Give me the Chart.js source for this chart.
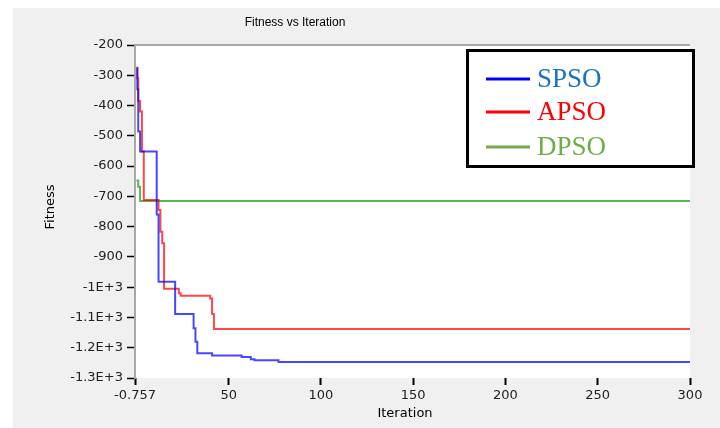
<!DOCTYPE html>
<html>
<head>
<meta charset="utf-8">
<script src="https://cdn.jsdelivr.net/npm/chart.js@4.4.0/dist/chart.umd.min.js"></script>
<style>
  html, body { margin: 0; padding: 0; background: #fff; }
  #wrap { width: 720px; height: 428px; position: relative; }
</style>
</head>
<body>
<div id="wrap"><canvas id="fitness-chart" width="720" height="428"></canvas></div>
<script>
// step points: [iteration, fitness] where the best value changes
const spso = [[0, -277], [0.5, -346], [1, -486], [2, -552], [11, -760], [12, -982],
  [21, -1089], [31, -1136], [32, -1180], [33, -1218], [41, -1226], [57, -1231],
  [62, -1238], [64, -1241], [77, -1247], [300, -1247]];
const apso = [[0, -275], [0.5, -310], [1, -385], [2, -420], [3, -552], [4, -712], [12, -745],
  [13, -817], [14, -855], [15, -1005], [23, -1020], [24, -1028], [40, -1037],
  [41, -1089], [42, -1138], [300, -1138]];
const dpso = [[0, -648], [1, -668], [2, -715], [300, -715]];

const seriesNames = ["SPSO", "APSO", "DPSO"];
const xTicks = [-0.757, 50, 100, 150, 200, 250, 300];
const yTicks = [-200, -300, -400, -500, -600, -700, -800, -900, -1000, -1100, -1200, -1300];
const yTickLabels = ["-200", "-300", "-400", "-500", "-600", "-700", "-800", "-900",
  "-1E+3", "-1.1E+3", "-1.2E+3", "-1.3E+3"];

const chartTitle = "Fitness vs Iteration";
const xTitle = "Iteration";
const yTitle = "Fitness";

const toPoints = (arr) => arr.map(([x, y]) => ({ x, y }));

// panel background, borders, titles and the boxed legend
const decor = {
  id: "decor",
  beforeDraw(chart) {
    const { ctx, chartArea: a } = chart;
    ctx.save();
    ctx.fillStyle = "#ffffff";
    ctx.fillRect(0, 0, chart.width, chart.height);
    ctx.fillStyle = "#f0f0f0";
    ctx.fillRect(13, 8, chart.width - 13, chart.height - 8);
    ctx.fillStyle = "#ffffff";
    ctx.fillRect(a.left, a.top, a.right - a.left, a.bottom - a.top);
    ctx.restore();
  },
  afterDraw(chart) {
    const { ctx, chartArea: a } = chart;
    ctx.save();
    // top + left frame
    ctx.strokeStyle = "#a8a8a8";
    ctx.lineWidth = 2;
    ctx.beginPath();
    ctx.moveTo(a.right, a.top);
    ctx.lineTo(a.left, a.top);
    ctx.lineTo(a.left, a.bottom + 1);
    ctx.stroke();

    // titles
    ctx.fillStyle = "#000";
    ctx.textAlign = "center";
    ctx.textBaseline = "middle";
    ctx.font = "12px 'Liberation Sans', Arial, sans-serif";
    ctx.fillText(chartTitle, 295, 23);
    ctx.font = "13px 'DejaVu Sans', sans-serif";
    ctx.fillText(xTitle, 405, 414);
    ctx.translate(51, 207);
    ctx.rotate(-Math.PI / 2);
    ctx.fillText(yTitle, 0, 0);
    ctx.setTransform(1, 0, 0, 1, 0, 0);

    // legend box
    ctx.fillStyle = "#fff";
    ctx.fillRect(467, 50, 227, 117);
    ctx.strokeStyle = "#000";
    ctx.lineWidth = 3;
    ctx.strokeRect(467.5, 50.5, 226, 116);
    const textColors = ["#1a72c4", "#ff0000", "#70ad47"];
    const lineColors = ["#0000ff", "#ff0000", "#70ad47"];
    const rowY = [79, 112, 147];
    ctx.font = "27px 'Liberation Serif', 'DejaVu Serif', serif";
    ctx.textAlign = "left";
    ctx.textBaseline = "alphabetic";
    chart.data.datasets.forEach((ds, i) => {
      ctx.strokeStyle = lineColors[i];
      ctx.lineWidth = 3;
      ctx.beginPath();
      ctx.moveTo(486, rowY[i]);
      ctx.lineTo(530, rowY[i]);
      ctx.stroke();
      ctx.fillStyle = textColors[i];
      ctx.fillText(ds.label, 537, rowY[i] + 8);
    });
    ctx.restore();
  }
};

const fitnessChart = new Chart(document.getElementById("fitness-chart"), {
  type: "scatter",
  data: {
    datasets: [
      { label: seriesNames[0], data: toPoints(spso), borderColor: "rgba(0,0,255,0.72)" },
      { label: seriesNames[1], data: toPoints(apso), borderColor: "rgba(255,0,0,0.72)" },
      { label: seriesNames[2], data: toPoints(dpso), borderColor: "rgba(0,140,0,0.65)" },
    ].map((d) => ({ ...d, showLine: true, stepped: "before", borderWidth: 2, pointRadius: 0 })),
  },
  options: {
    responsive: false,
    animation: false,
    layout: { padding: { left: 0, top: 45, right: 30, bottom: 0 } },
    plugins: {
      legend: { display: false },
      title: { display: false },
      tooltip: { enabled: false },
    },
    scales: {
      x: {
        type: "linear",
        min: xTicks[0],
        max: xTicks[xTicks.length - 1],
        afterBuildTicks: (scale) => { scale.ticks = xTicks.map((v) => ({ value: v })); },
        afterFit: (scale) => { scale.height = 50; },
        border: { display: false },
        grid: { drawOnChartArea: false, drawTicks: true, tickLength: 7, tickColor: "#000", tickWidth: 2 },
        ticks: {
          maxRotation: 0,
          padding: 3,
          color: "#222",
          font: { family: "'DejaVu Sans', sans-serif", size: 13 },
          callback: (v) => String(v),
        },
      },
      y: {
        type: "linear",
        min: yTicks[yTicks.length - 1],
        max: yTicks[0],
        afterBuildTicks: (scale) => { scale.ticks = yTicks.map((v) => ({ value: v })); },
        afterFit: (scale) => { scale.width = 135; },
        border: { display: false },
        grid: { drawOnChartArea: false, drawTicks: true, tickLength: 8, tickColor: "#000", tickWidth: 1.5 },
        ticks: {
          padding: 4,
          color: "#222",
          font: { family: "'DejaVu Sans', sans-serif", size: 13 },
          callback: (v) => yTickLabels[yTicks.indexOf(v)],
        },
      },
    },
  },
  plugins: [decor],
});
</script>
</body>
</html>
